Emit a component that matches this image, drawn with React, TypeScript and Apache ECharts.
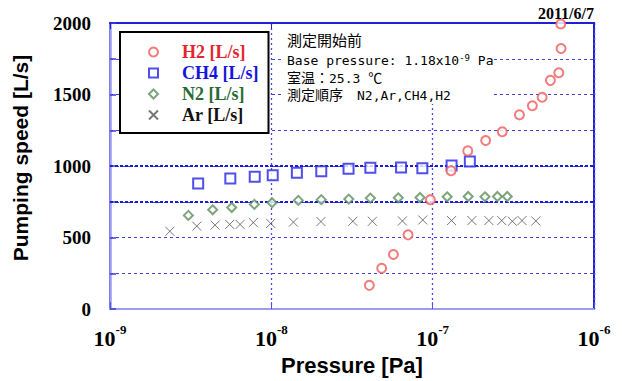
import React, { useEffect, useRef } from "react";
import * as echarts from "echarts";

// ---- Data ----
const h2Pressure = [4.05e-8, 4.83e-8, 5.71e-8, 7.04e-8, 9.68e-8, 1.3e-7, 1.65e-7, 2.13e-7, 2.7e-7, 3.45e-7, 4.15e-7, 4.77e-7, 5.37e-7, 6.05e-7, 6.25e-7, 6.22e-7];
const h2Speed = [166, 285, 382, 519, 765, 967, 1106, 1179, 1240, 1358, 1422, 1481, 1599, 1652, 1822, 1993];

const ch4Pressure = [3.52e-9, 5.57e-9, 7.89e-9, 1.02e-8, 1.44e-8, 2.04e-8, 3.01e-8, 4.11e-8, 6.37e-8, 8.63e-8, 1.31e-7, 1.7e-7];
const ch4Speed = [878, 913, 926, 935, 954, 963, 981, 988, 990, 985, 1003, 1031];

const n2Pressure = [3.06e-9, 4.33e-9, 5.68e-9, 7.85e-9, 1.01e-8, 1.47e-8, 2.04e-8, 3.02e-8, 4.11e-8, 6.12e-8, 8.35e-8, 1.23e-7, 1.66e-7, 2.11e-7, 2.52e-7, 2.9e-7];
const n2Speed = [655, 694, 710, 732, 744, 760, 765, 769, 776, 778, 780, 785, 787, 785, 787, 787];

const arPressure = [2.35e-9, 3.45e-9, 4.48e-9, 5.52e-9, 6.4e-9, 7.73e-9, 9.91e-9, 1.37e-8, 2.03e-8, 3.2e-8, 4.23e-8, 6.49e-8, 8.68e-8, 1.31e-7, 1.75e-7, 2.23e-7, 2.68e-7, 3.12e-7, 3.58e-7, 4.36e-7];
const arSpeed = [544, 580, 587, 592, 592, 605, 599, 608, 612, 614, 614, 616, 623, 619, 619, 619, 619, 614, 619, 616];

const seriesNames = ["H2 [L/s]", "CH4 [L/s]", "N2 [L/s]", "Ar [L/s]"];
const speedTickLabels = [0, 500, 1000, 1500, 2000];
const boldGridLevels = [1000, 750];
const dateText = "2011/6/7";
const yTitle = "Pumping speed [L/s]";
const xTitle = "Pressure [Pa]";

const zip = (xs: number[], ys: number[]) => xs.map((x, i) => [x, ys[i]]);

export default function App() {
  const ref = useRef<HTMLDivElement>(null);

  useEffect(() => {
    if (!ref.current) return;
    const chart = echarts.init(ref.current, undefined, { renderer: "svg" });

    const serif = "Liberation Serif";
    const sans = "Liberation Sans";
    const mono = "DejaVu Sans Mono";
    const jpMix = "'DejaVu Sans Mono', 'Noto Sans CJK JP'";

    const annRich = {
      j: { fontFamily: jpMix, fontSize: 14, color: "#000", lineHeight: 14 },
      m: { fontFamily: mono, fontSize: 13, color: "#000", lineHeight: 14 },
      s: { fontFamily: mono, fontSize: 9, color: "#000", verticalAlign: "top", lineHeight: 11 },
    };
    const annTitleRich = {
      j: { fontFamily: jpMix, fontSize: 15, color: "#000", lineHeight: 15 },
    };

    const option: any = {
      animation: false,
      backgroundColor: "#fff",
      grid: {
        left: 110,
        right: 28,
        top: 23,
        bottom: 65,
        show: true,
        borderColor: "#1f1fd8",
        borderWidth: 2,
        backgroundColor: "transparent",
      },
      legend: {
        orient: "vertical",
        left: 120,
        top: 32,
        padding: [11, 10, 9, 28],
        itemGap: 3,
        itemWidth: 9,
        itemHeight: 9,
        borderColor: "#000",
        borderWidth: 2,
        backgroundColor: "#fff",
        selectedMode: false,
        textStyle: {
          fontFamily: serif,
          fontWeight: "bold",
          fontSize: 18,
          lineHeight: 18,
          padding: [0, 0, 0, 19],
        },
        data: [
          { name: seriesNames[0], textStyle: { color: "#e3262e" } },
          { name: seriesNames[1], textStyle: { color: "#1515dd" } },
          { name: seriesNames[2], textStyle: { color: "#2a6b35" } },
          { name: seriesNames[3], textStyle: { color: "#111" } },
        ],
      },
      xAxis: [
        {
          type: "log",
          logBase: 10,
          min: 1e-9,
          max: 1e-6,
          interval: 1,
          name: xTitle,
          nameLocation: "middle",
          nameGap: 44,
          nameTextStyle: { fontFamily: sans, fontWeight: "bold", fontSize: 22, color: "#000" },
          axisLine: { show: true, lineStyle: { color: "#9c9cf0", width: 2 } },
          axisTick: { show: true, inside: true, length: 7, lineStyle: { color: "#5050e8", width: 1 } },
          minorTick: { show: false },
          axisLabel: {
            margin: 14,
            formatter: (v: number) => {
              const e = Math.round(Math.log10(v));
              return `{b|10}{s|${e}}`;
            },
            rich: {
              b: { fontFamily: serif, fontWeight: "bold", fontSize: 22, color: "#000", lineHeight: 26, verticalAlign: "bottom" },
              s: { fontFamily: serif, fontWeight: "bold", fontSize: 13, color: "#000", lineHeight: 14, verticalAlign: "top" },
            },
          },
          splitLine: { show: true, lineStyle: { color: "#4a4ae6", width: 1.3, type: [2, 3] } },
        },
        {
          type: "log",
          logBase: 10,
          min: 1e-9,
          max: 1e-6,
          interval: 1,
          position: "top",
          axisLine: { show: true, lineStyle: { color: "#1f1fd8", width: 2 } },
          axisTick: { show: true, inside: true, length: 6, lineStyle: { color: "#1f1fd8", width: 1 } },
          axisLabel: { show: false },
          splitLine: { show: false },
        },
      ],
      yAxis: {
        type: "value",
        min: 0,
        max: 2000,
        interval: 250,
        axisLine: { show: true, lineStyle: { color: "#9c9cf0", width: 2.5 } },
        axisTick: { show: true, inside: true, length: 6, lineStyle: { color: "#3a3ae0", width: 1.5 } },
        axisLabel: {
          margin: 19,
          fontFamily: serif,
          fontWeight: "bold",
          fontSize: 19,
          color: "#000",
          formatter: (v: number) => (speedTickLabels.includes(v) ? String(v) : ""),
        },
        splitLine: { show: true, lineStyle: { color: "#4040e0", width: 1, type: [3, 3] } },
      },
      series: [
        {
          name: seriesNames[0],
          type: "scatter",
          data: zip(h2Pressure, h2Speed),
          symbol: "emptyCircle",
          symbolSize: 9,
          itemStyle: { color: "#f05a5a", borderWidth: 1 },
          z: 6,
        },
        {
          name: seriesNames[1],
          type: "scatter",
          data: zip(ch4Pressure, ch4Speed),
          symbol: "emptyRect",
          symbolSize: 10,
          itemStyle: { color: "#2323e6", borderWidth: 1.5 },
          z: 5,
          markLine: {
            silent: true,
            symbol: ["none", "none"],
            label: { show: false },
            lineStyle: { color: "#1a1ae0", type: [3, 2], width: 2 },
            data: boldGridLevels.map((y) => ({ yAxis: y })),
            z: 1,
          },
        },
        {
          name: seriesNames[2],
          type: "scatter",
          data: zip(n2Pressure, n2Speed),
          symbol: "emptyDiamond",
          symbolSize: 9,
          itemStyle: { color: "#5d8f5d", borderWidth: 1 },
          z: 5,
        },
        {
          name: seriesNames[3],
          type: "scatter",
          data: zip(arPressure, arSpeed),
          symbol: "path://M0,0L10,10M10,0L0,10",
          symbolSize: 9,
          itemStyle: { color: "transparent", borderColor: "#555", borderWidth: 1 },
          z: 5,
        },
      ],
      graphic: [
        {
          type: "rect",
          z: 20,
          silent: true,
          shape: { x: 284, y: 24, width: 210, height: 80 },
          style: { fill: "#fff" },
        },
        {
          type: "text",
          z: 21,
          x: 287,
          y: 41,
          style: { text: "{j|測定開始前}", rich: annTitleRich, verticalAlign: "middle" },
        },
        {
          type: "text",
          z: 21,
          x: 287,
          y: 60.5,
          style: { text: "{m|Base pressure: 1.18x10}{s|-9}{m| Pa}", rich: annRich, verticalAlign: "middle" },
        },
        {
          type: "text",
          z: 21,
          x: 287,
          y: 78,
          style: { text: "{j|室温：}{m|25.3 }{j|℃}", rich: annRich, verticalAlign: "middle" },
        },
        {
          type: "text",
          z: 21,
          x: 287,
          y: 95,
          style: { text: "{j|測定順序　}{m|N2,Ar,CH4,H2}", rich: annRich, verticalAlign: "middle" },
        },
        {
          type: "text",
          z: 21,
          x: 594,
          y: 13,
          style: {
            text: dateText,
            font: `bold 16px "${serif}"`,
            fill: "#000",
            align: "right",
            verticalAlign: "middle",
          },
        },
        {
          type: "text",
          z: 21,
          x: 20,
          y: 158,
          rotation: Math.PI / 2,
          style: {
            text: yTitle,
            font: `bold 21px "${sans}"`,
            fill: "#000",
            align: "center",
            verticalAlign: "middle",
          },
        },
      ],
    };

    chart.setOption(option);
    return () => chart.dispose();
  }, []);

  return <div ref={ref} style={{ position: "fixed", left: 0, top: 0, width: 622, height: 381 }} />;
}
